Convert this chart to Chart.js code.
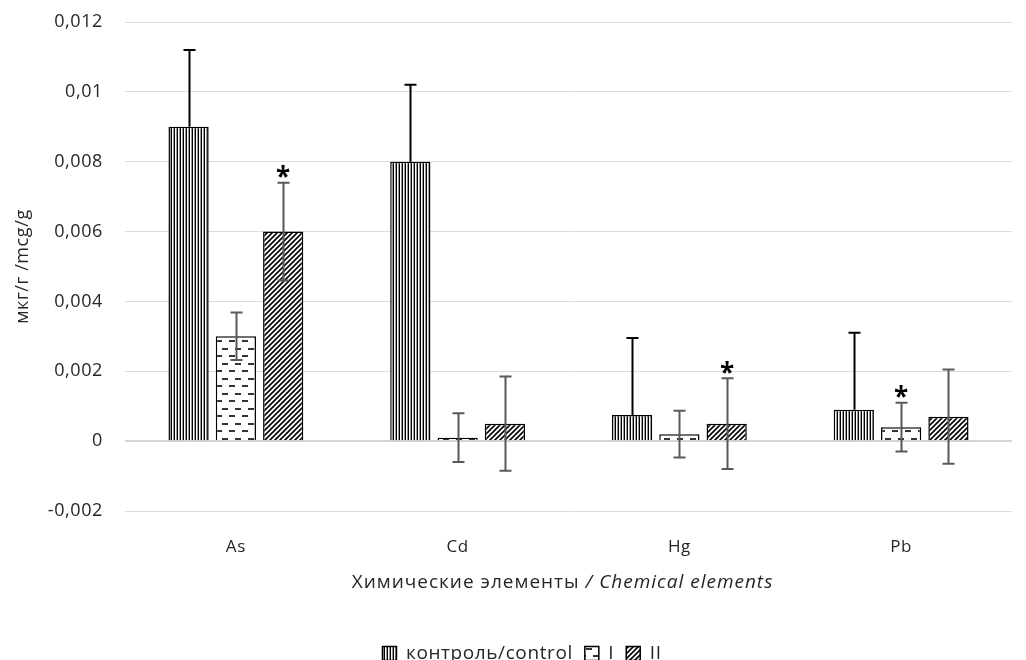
<!DOCTYPE html>
<html><head><meta charset="utf-8">
<script src="https://cdn.jsdelivr.net/npm/chart.js@4"></script>
<style>html,body{margin:0;padding:0;background:#fff}#wrap{width:1026px;height:660px}</style>
</head><body><div id="wrap"><canvas id="c" width="1026" height="660"></canvas></div>
<script>
const categories = ['As', 'Cd', 'Hg', 'Pb'];
const seriesNames = ['контроль/control', 'I', 'II'];
const controlValues = [0.009, 0.008, 0.00075, 0.0009];
const groupIValues = [0.003, 0.0001, 0.0002, 0.0004];
const groupIIValues = [0.006, 0.0005, 0.0005, 0.0007];
const controlErrors = [0.0022, 0.0022, 0.0022, 0.0022];
const groupIErrors = [0.00068, 0.0007, 0.00067, 0.0007];
const groupIIErrors = [0.0014, 0.00135, 0.0013, 0.00135];
const controlStars = [false, false, false, false];
const groupIStars = [false, false, false, true];
const groupIIStars = [true, false, true, false];
const yMin = -0.002, yMax = 0.012, yStep = 0.002;
const xTitleMain = 'Химические элементы ';
const xTitleItalic = '/ Chemical elements';
const yTitle = 'мкг/г /mcg/g';

const FONT = "'Open Sans'";
const TEXT = '#262626';

function makePattern(kind) {
  const c = document.createElement('canvas');
  const g = c.getContext('2d');
  if (kind === 'vert') {
    c.width = 3; c.height = 4;
    g.fillStyle = '#fff'; g.fillRect(0, 0, 3, 4);
    g.fillStyle = '#000'; g.fillRect(0, 0, 1, 4);
    g.fillStyle = '#999'; g.fillRect(2, 0, 1, 4);
  } else if (kind === 'dash') {
    c.width = 13; c.height = 15;
    g.fillStyle = '#fff'; g.fillRect(0, 0, 13, 15);
    g.fillStyle = '#333';
    g.fillRect(1, 3, 6, 2);
    g.fillRect(8, 10, 5, 2);
    g.fillRect(0, 10, 1, 2);
  } else {
    c.width = 5; c.height = 5;
    g.fillStyle = '#fff'; g.fillRect(0, 0, 5, 5);
    g.strokeStyle = '#000'; g.lineWidth = 1.6;
    g.beginPath();
    g.moveTo(-1, 6); g.lineTo(6, -1);
    g.moveTo(-6, 6); g.lineTo(1, -1);
    g.moveTo(4, 6); g.lineTo(11, -1);
    g.stroke();
  }
  return g.createPattern(c, 'repeat');
}

const spacing = {
  id: 'spacing',
  beforeUpdate(chart) { chart.ctx.letterSpacing = '0.6px'; },
  beforeDraw(chart) { chart.ctx.letterSpacing = '0.6px'; }
};

const errorPlugin = {
  id: 'errbars',
  afterDatasetsDraw(chart) {
    const ctx = chart.ctx, ys = chart.scales.y;
    chart.data.datasets.forEach((ds, di) => {
      const meta = chart.getDatasetMeta(di);
      meta.data.forEach((bar, i) => {
        const v = ds.data[i], e = ds.errors[i];
        const x = Math.round(bar.x) + 0.5;
        const top = ys.getPixelForValue(v + e);
        const bot = ds.plusOnly ? bar.y : ys.getPixelForValue(v - e);
        ctx.save();
        ctx.strokeStyle = ds.errorColor; ctx.lineWidth = 2;
        ctx.beginPath();
        ctx.moveTo(x, bot); ctx.lineTo(x, top);
        ctx.moveTo(x - 6, top); ctx.lineTo(x + 6, top);
        if (!ds.plusOnly) { ctx.moveTo(x - 6, bot); ctx.lineTo(x + 6, bot); }
        ctx.stroke();
        if (ds.stars[i]) {
          ctx.fillStyle = '#000';
          ctx.font = 'bold 26px ' + FONT;
          ctx.textAlign = 'center'; ctx.textBaseline = 'alphabetic';
          const m = ctx.measureText('*');
          const center = top - 11;
          const base = center + (m.actualBoundingBoxAscent - m.actualBoundingBoxDescent) / 2;
          ctx.fillText('*', x, base);
        }
        ctx.restore();
      });
    });
  }
};

const xTitlePlugin = {
  id: 'xtitle',
  afterDraw(chart) {
    const ctx = chart.ctx, a = chart.chartArea;
    ctx.save();
    ctx.letterSpacing = '1px';
    const fMain = '19px ' + FONT, fIt = 'italic 19px ' + FONT;
    ctx.font = fMain; const w1 = ctx.measureText(xTitleMain).width;
    ctx.font = fIt; const w2 = ctx.measureText(xTitleItalic).width;
    const cx = (a.left + a.right) / 2 - 6;
    const x0 = cx - (w1 + w2) / 2;
    ctx.fillStyle = TEXT; ctx.textBaseline = 'middle'; ctx.textAlign = 'left';
    ctx.font = fMain; ctx.fillText(xTitleMain, x0, 583);
    ctx.font = fIt; ctx.fillText(xTitleItalic, x0 + w1, 583);
    ctx.restore();
  }
};

const legendShift = {
  id: 'legendShift',
  afterLayout(chart) {
    const lg = chart.legend;
    const want = 654;
    const cur = lg.top + lg.options.labels.padding + 10;
    const d = want - cur;
    lg.top += d; lg.bottom += d;
    lg.left += 16; lg.right += 16;
    if (lg.legendHitBoxes) lg.legendHitBoxes.forEach(h => { h.top += d; h.left += 16; });
  }
};

const fmt = v => {
  const r = Number(v.toFixed(4));
  return String(r).replace('.', ',');
};

new Chart(document.getElementById('c'), {
  type: 'bar',
  data: {
    labels: categories,
    datasets: [
      { label: seriesNames[0], data: controlValues, errors: controlErrors, stars: controlStars, plusOnly: true, errorColor: '#000',
        backgroundColor: makePattern('vert'), borderColor: '#000', borderWidth: 1.5 },
      { label: seriesNames[1], data: groupIValues, errors: groupIErrors, stars: groupIStars, plusOnly: false, errorColor: '#595959',
        backgroundColor: makePattern('dash'), borderColor: '#000', borderWidth: 1.5 },
      { label: seriesNames[2], data: groupIIValues, errors: groupIIErrors, stars: groupIIStars, plusOnly: false, errorColor: '#595959',
        backgroundColor: makePattern('diag'), borderColor: '#000', borderWidth: 1.5 }
    ]
  },
  options: {
    responsive: false,
    animation: false,
    devicePixelRatio: 1,
    layout: { padding: { top: 22, right: 14, left: 0, bottom: 0 } },
    datasets: { bar: { categoryPercentage: 0.64, barPercentage: 0.85 } },
    plugins: {
      legend: {
        position: 'bottom',
        labels: { font: { family: FONT, size: 19 }, color: TEXT, boxWidth: 14, boxHeight: 14, padding: 12 }
      },
      tooltip: { enabled: false }
    },
    scales: {
      x: {
        grid: { display: false, drawTicks: false },
        border: { display: false },
        ticks: { font: { family: FONT, size: 17 }, color: TEXT, padding: 26 },
        afterFit(s) { s.height = 108; }
      },
      y: {
        min: yMin, max: yMax,
        border: { display: false },
        grid: {
          drawTicks: true,
          tickLength: 22,
          tickColor: 'rgba(0,0,0,0)',
          color: c => c.tick && c.tick.value === 0 ? '#d4d4d4' : '#dcdcdc',
          lineWidth: c => c.tick && c.tick.value === 0 ? 2 : 1
        },
        ticks: { stepSize: yStep, font: { family: FONT, size: 18 }, color: TEXT, padding: 0, callback: v => fmt(v) },
        title: { display: true, text: yTitle, font: { family: FONT, size: 18 }, color: TEXT, padding: { top: 12, bottom: 0 } },
        afterFit(s) { s.width = 125; }
      }
    }
  },
  plugins: [spacing, errorPlugin, xTitlePlugin, legendShift]
});
</script>
</body></html>
